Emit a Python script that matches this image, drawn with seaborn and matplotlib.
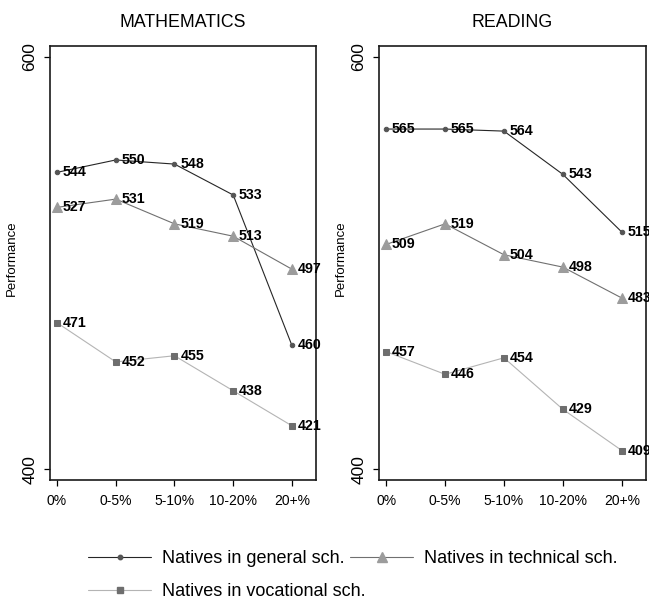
import matplotlib
matplotlib.use("Agg")
import matplotlib.pyplot as plt
import seaborn as sns
import pandas as pd
from matplotlib.lines import Line2D

# Share of immigrant students in the school
categories = ["0%", "0-5%", "5-10%", "10-20%", "20+%"]

math_general = [544, 550, 548, 533, 460]
math_technical = [527, 531, 519, 513, 497]
math_vocational = [471, 452, 455, 438, 421]

read_general = [565, 565, 564, 543, 515]
read_technical = [509, 519, 504, 498, 483]
read_vocational = [457, 446, 454, 429, 409]

series_names = ["Natives in general sch.", "Natives in technical sch.", "Natives in vocational sch."]
panel_titles = ["MATHEMATICS", "READING"]
y_ticks = [400, 600]

sns.set_style("white")
plt.rcParams["font.family"] = ["Liberation Sans", "DejaVu Sans"]
plt.rcParams["text.color"] = "black"
plt.rcParams["axes.labelcolor"] = "black"

styles = {
    series_names[0]: dict(line="#262626", face="#555555", marker="o", ms=3.2),
    series_names[1]: dict(line="#707070", face="#9c9c9c", marker="^", ms=7.0),
    series_names[2]: dict(line="#b4b4b4", face="#6e6e6e", marker="s", ms=5.0),
}


def long_table(general, technical, vocational):
    rows = []
    for name, vals in zip(series_names, [general, technical, vocational]):
        for i, (cat, v) in enumerate(zip(categories, vals)):
            rows.append({"pos": i, "category": cat, "series": name, "score": v})
    return pd.DataFrame(rows)


panels = [
    long_table(math_general, math_technical, math_vocational),
    long_table(read_general, read_technical, read_vocational),
]

fig = plt.figure(figsize=(6.49, 6.02), dpi=100)
W, H = 649, 602
boxes = [(50, 316), (379, 646)]
top_px, bot_px = 46, 480

for (x0, x1), df, title in zip(boxes, panels, panel_titles):
    ax = fig.add_axes([x0 / W, (H - bot_px) / H, (x1 - x0) / W, (bot_px - top_px) / H])
    for name in series_names:
        st = styles[name]
        sub = df[df["series"] == name]
        sns.lineplot(data=sub, x="pos", y="score", ax=ax, color=st["line"],
                     linewidth=0.8, marker=st["marker"], markersize=st["ms"],
                     markerfacecolor=st["face"], markeredgecolor=st["face"],
                     legend=False)
        for _, r in sub.iterrows():
            ax.annotate(str(r["score"]), (r["pos"], r["score"]), xytext=(4.2, 0),
                        textcoords="offset points", ha="left", va="center",
                        fontsize=10.2, fontweight="bold", color="black",
                        annotation_clip=False)
    ax.set_xlim(-0.12, 4.41)
    ax.set_ylim(394.7, 605.3)
    ax.set_xticks(range(len(categories)))
    ax.set_xticklabels(categories, fontsize=10)
    ax.set_yticks(y_ticks)
    ax.set_yticklabels([str(t) for t in y_ticks], fontsize=12.5, rotation=90, va="center")
    ax.tick_params(axis="x", length=4, width=0.9, pad=6, direction="out", bottom=True, colors="black")
    ax.tick_params(axis="y", length=4, width=0.9, pad=5, direction="out", left=True, colors="black")
    ax.set_xlabel("")
    ax.set_ylabel("Performance", fontsize=9.5, color="black")
    ax.yaxis.set_label_coords(-0.12, 0.51)
    ax.set_title(title, fontsize=12.8, pad=14, color="black")
    for sp in ax.spines.values():
        sp.set_visible(True)
        sp.set_color("#1a1a1a")
        sp.set_linewidth(1.2)

handles = {}
for name in series_names:
    st = styles[name]
    handles[name] = Line2D([], [], color=st["line"], linewidth=0.8, marker=st["marker"],
                           markersize=st["ms"], markerfacecolor=st["face"],
                           markeredgecolor=st["face"])

order = [series_names[0], series_names[2], series_names[1]]
fig.legend([handles[n] for n in order], order, loc="center left",
           bbox_to_anchor=(88 / W, (H - 575) / H), ncol=2, frameon=False,
           fontsize=13, handlelength=3.5, handletextpad=0.6, columnspacing=-0.85,
           labelspacing=0.9, borderpad=0, borderaxespad=0)

fig.savefig("out.png", dpi=100)
